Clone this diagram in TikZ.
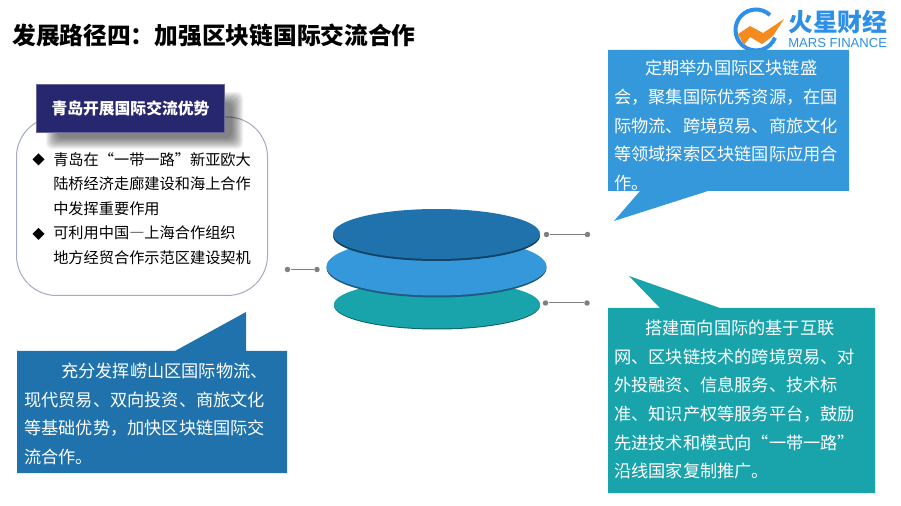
\documentclass[tikz,border=0pt]{standalone}
\usepackage{fontspec}
\setmainfont{Noto Sans CJK SC}
\newfontfamily\fwf[RawFeature={+fwid}]{Noto Sans CJK SC}
\newfontfamily\latinf{Liberation Sans}
\definecolor{cblue}{HTML}{3498DB}
\definecolor{cdark}{HTML}{1F72AB}
\definecolor{cteal}{HTML}{19A3AB}
\definecolor{cnavy}{HTML}{27276F}
\definecolor{cgrey}{HTML}{7F7F7F}
\definecolor{clogo}{HTML}{2E8FE6}
\definecolor{corange}{HTML}{F58A1F}
\definecolor{cpanel}{HTML}{A3AAC2}
\newcommand{\bodyfs}{\fontsize{12.9pt}{21.45pt}\selectfont}
\newcommand{\listfs}{\fontsize{11.4pt}{18.45pt}\selectfont}
\newcommand{\lquo}{\makebox[1em][r]{“}}
\newcommand{\rquo}{\makebox[1em][l]{”}}
\newcommand{\dashfw}{{\fwf —}}
\tikzset{
  x=0.75pt,y=-0.75pt,
  calltext/.style={anchor=north west,inner sep=0pt,align=left,text=white,font=\bodyfs},
  listtext/.style={anchor=north west,inner sep=0pt,align=left,text=black,font=\listfs},
  dotend/.style={circle,fill=cgrey,inner sep=0pt,minimum size=4.1pt},
  link/.style={cgrey,line width=0.75pt},
}
\begin{document}
\begin{tikzpicture}
\useasboundingbox (0,0) rectangle (901,506);
\node[anchor=base west,inner sep=0pt,font=\fontsize{17.8pt}{20pt}\selectfont\bfseries] (title) at (12,45) {发展路径四：加强区块链国际交流合作};
% logo
\draw[clogo,line width=3pt] (770,15) arc[start angle=-47,end angle=-338,radius=20.5];
\fill[corange] (738,34) -- (750,26) -- (763,33) -- (784,19) -- (773,36) -- (762,44) -- (750,37) -- (744,45) -- cycle;
\node[anchor=base west,inner sep=0pt,text=clogo,font=\fontsize{18.6pt}{20pt}\selectfont\bfseries] (logocn) at (788,32) {火星财经};
\node[anchor=base west,inner sep=0pt,text=clogo,font=\latinf\fontsize{9.8pt}{11pt}\selectfont] (logoen) at (788,48) {MARS FINANCE};
% left panel
\draw[fill=white,draw=cpanel,line width=0.75pt,rounded corners=30pt] (16.5,117) rectangle (267.5,295.5);
\foreach \i in {0,...,11}
  \fill[black,opacity=0.05,rounded corners=4pt] (46+\i,92+\i) rectangle (243-\i,149-\i);
\node[fill=cnavy,draw=cnavy!70!white,line width=0.75pt,minimum width=141pt,minimum height=35.5pt,inner sep=0pt,text=white,font=\fontsize{11.85pt}{14pt}\selectfont\bfseries] (head) at (130.5,108.5) {青岛开展国际交流优势};
\node[listtext] (l1) at (53,152) {青岛在\lquo 一带一路\rquo 新亚欧大\\陆桥经济走廊建设和海上合作\\中发挥重要作用\\可利用中国\dashfw 上海合作组织\\地方经贸合作示范区建设契机};
\fill (32.5,159.5) -- (38.5,153.5) -- (44.5,159.5) -- (38.5,165.5) -- cycle;
\fill (32.5,234) -- (38.5,228) -- (44.5,234) -- (38.5,240) -- cycle;
% callouts
\fill[cblue] (608,50) -- (849,50) -- (849,191) -- (708,191) -- (614,221) -- (640,191) -- (608,191) -- cycle;
\node[calltext] (t1) at (614,60) {\hspace*{23.25pt}定期举办国际区块链盛\\会，聚集国际优秀资源，在国\\际物流、跨境贸易、商旅文化\\等领域探索区块链国际应用合\\作。};
\fill[cteal] (608,308) -- (660,308) -- (629,276) -- (720,308) -- (875,308) -- (875,493) -- (608,493) -- cycle;
\node[calltext] (t2) at (614,320) {\hspace*{23.25pt}搭建面向国际的基于互联\\网、区块链技术的跨境贸易、对\\外投融资、信息服务、技术标\\准、知识产权等服务平台，鼓励\\先进技术和模式向\lquo 一带一路\rquo\\沿线国家复制推广。};
\fill[cdark] (17,351) -- (175,351) -- (246,312) -- (246,351) -- (287,351) -- (287,473) -- (17,473) -- cycle;
\node[calltext] (t3) at (24,363) {\hspace*{27.75pt}充分发挥崂山区国际物流、\\现代贸易、双向投资、商旅文化\\等基础优势，加快区块链国际交\\流合作。};
% discs
\fill[black!40!cteal] (437,305.5) ellipse[x radius=103,y radius=24];
\fill[cteal] (437,304.5) ellipse[x radius=103,y radius=24];
\fill[black!40!cblue] (436.5,268) ellipse[x radius=110,y radius=29.5];
\fill[cblue] (436.5,266.5) ellipse[x radius=110,y radius=29];
\fill[black!40!cdark] (436.5,236) ellipse[x radius=103.5,y radius=25];
\fill[cdark] (436.5,234) ellipse[x radius=103.5,y radius=25];
% connectors
\node[dotend] (a1) at (546.5,234.5) {};
\node[dotend] (a2) at (587.5,234.5) {};
\node[dotend] (b1) at (545.5,303) {};
\node[dotend] (b2) at (587,303) {};
\node[dotend] (c1) at (287.5,269.5) {};
\node[dotend] (c2) at (317,269.5) {};
\draw[link] (a1) -- (a2);
\draw[link] (b1) -- (b2);
\draw[link] (c1) -- (c2);
\end{tikzpicture}
\end{document}
